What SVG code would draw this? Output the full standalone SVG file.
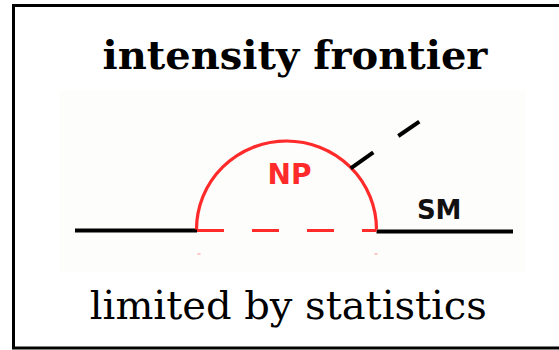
<svg xmlns="http://www.w3.org/2000/svg" width="559" height="350" viewBox="0 0 559 350">
<style>
.title{font-family:"DejaVu Serif",serif;font-weight:bold;font-size:40px;fill:#000}
.sub{font-family:"DejaVu Serif",serif;font-size:40px;fill:#000}
.lab{font-family:"DejaVu Sans",sans-serif;font-weight:bold}
.blk{stroke:#000;stroke-width:4;fill:none}
.red{stroke:#ff2a2a;stroke-width:3.2;fill:none}
</style>
<rect x="0" y="0" width="559" height="350" fill="#fff"/>
<rect x="13.5" y="5.5" width="560" height="342.5" fill="none" stroke="#000" stroke-width="3"/>
<g id="title"><text class="title" x="295" y="69" text-anchor="middle">intensity frontier</text></g>
<g id="panel">
<rect x="60" y="90" width="465" height="182.5" fill="#fdfdfb"/>
</g>
<g id="connectors">
<line class="blk" x1="75" y1="230.5" x2="197" y2="230.5"/>
<line class="blk" x1="376.5" y1="231.5" x2="513" y2="231.5"/>
<path class="red" d="M196.5,229.5 A90,88.5 0 0 1 376.5,229.5"/>
<line class="red" x1="197" y1="230.5" x2="376.5" y2="230.5" stroke-width="4.5" stroke-dasharray="27 28"/>
<line class="blk" x1="350.7" y1="168.3" x2="373.3" y2="152.3" stroke-width="3.5"/>
<line class="blk" x1="398.3" y1="136" x2="419.3" y2="121.7" stroke-width="3.5"/>
<rect x="197.5" y="253" width="3" height="2" fill="#ffc8c8"/>
<rect x="374.5" y="253" width="3" height="2" fill="#ffc8c8"/>
</g>
<g id="np"><text class="lab" x="289.5" y="184.3" font-size="28" fill="#ff2a2a" text-anchor="middle">NP</text></g>
<g id="sm"><text class="lab" x="439.2" y="219.3" font-size="26" fill="#111" text-anchor="middle">SM</text></g>
<g id="subtitle"><text class="sub" x="288.3" y="319.3" text-anchor="middle">limited by statistics</text></g>
</svg>
